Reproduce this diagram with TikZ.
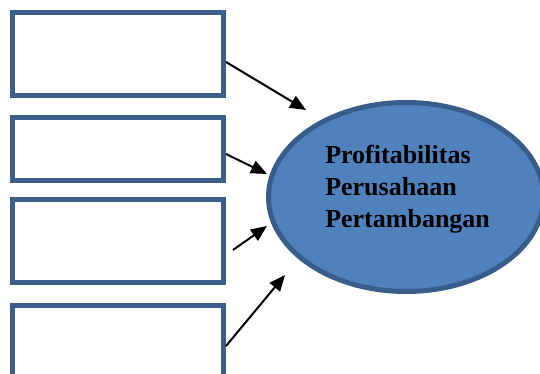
\documentclass[tikz,border=0pt]{standalone}
\usepackage{fontspec}
\setmainfont{Liberation Serif}
\usetikzlibrary{shapes.geometric,arrows.meta}

\definecolor{boxline}{HTML}{3A5F8D}
\definecolor{ovalfill}{HTML}{4F81BD}
\definecolor{ovalline}{HTML}{385D8A}

\tikzset{
  varbox/.style={draw=boxline, line width=3.75pt, fill=white, minimum width=158.25pt, inner sep=0pt},
  toward/.style={line width=1.5pt, -{Triangle[length=12pt, width=10pt]}},
}

\begin{document}
\begin{tikzpicture}[x=0.75pt, y=-0.75pt]

\useasboundingbox (0,0) rectangle (540,374);

\node[varbox, minimum height=62.25pt] (x1) at (118,54) {};
\node[varbox, minimum height=47.25pt] (x2) at (118,149) {};
\node[varbox, minimum height=62.25pt] (x3) at (118,241) {};
\node[varbox, minimum height=62.25pt] (x4) at (118,347) {};

\node[ellipse, draw=ovalline, fill=ovalfill, line width=3.75pt,
      minimum width=206.25pt, minimum height=141.75pt] (prof) at (406,197) {};
\node[anchor=north west, align=left, inner sep=0pt,
      font=\bfseries\fontsize{19.5}{24}\selectfont] (proftext) at (325,145)
  {Profitabilitas\\Perusahaan\\Pertambangan};

% ends of the arrows
\coordinate (t1) at (306,110);
\coordinate (t2) at (267,174);
\coordinate (s3) at (233,250);
\coordinate (t3) at (267,226);
\coordinate (t4) at (285,275);

\draw[toward] (x1.east |- 0,62) -- (t1);
\draw[toward] (x2.east |- 0,154) -- (t2);
\draw[toward] (s3) -- (t3);
\draw[toward] (x4.east |- 0,346) -- (t4);

\end{tikzpicture}
\end{document}
